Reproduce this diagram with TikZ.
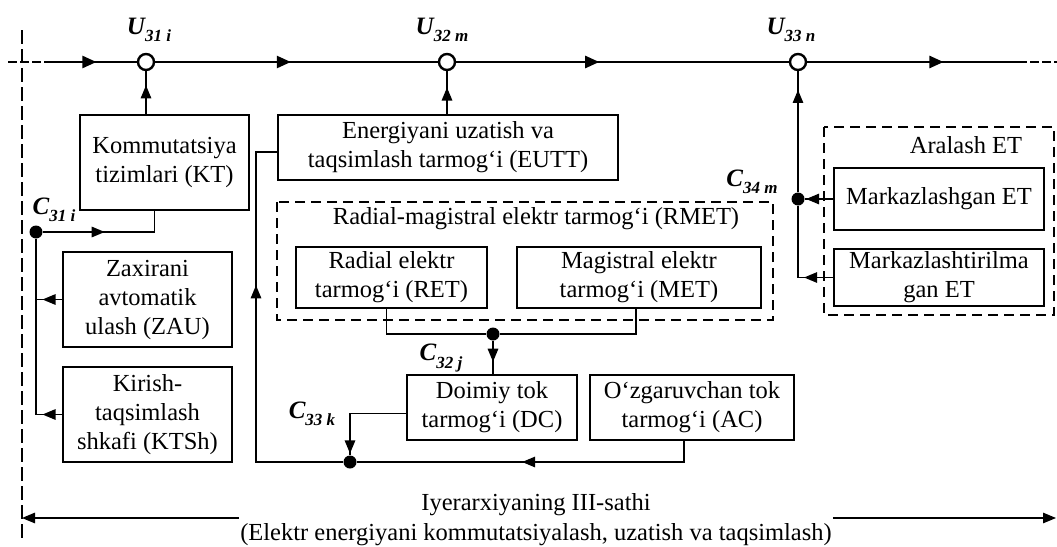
\documentclass[tikz,border=0pt]{standalone}
\usepackage{fontspec}
\setmainfont{Liberation Serif}
\usetikzlibrary{arrows.meta,decorations.markings}
\tikzset{
  box/.style={draw, line width=1.8pt, inner sep=2pt, align=center, font=\fontsize{24.5}{29}\selectfont},
  dbox/.style={draw, dash pattern=on 10pt off 6pt, line width=1.3pt},
  conn/.style={line width=1.3pt},
  mainln/.style={line width=2.4pt},
  arrat/.style={postaction={decorate},decoration={markings,mark=at position #1 with {\arrow{>}}}},
  bigarrat/.style={postaction={decorate},decoration={markings,mark=at position #1 with {\arrow{Triangle[length=14pt,width=12pt]}}}},
  junc/.style={circle, fill, inner sep=0pt, minimum size=13pt},
  busn/.style={circle, draw, fill=white, line width=2.4pt, inner sep=0pt, minimum size=16pt},
  lab/.style={inner sep=0pt, font=\fontsize{25}{25}\selectfont\bfseries\itshape},
  ttl/.style={inner sep=0pt, font=\fontsize{24.5}{29}\selectfont},
}
\newcommand{\labtxt}[2]{#1\raisebox{-0.3em}{\fontsize{17}{17}\selectfont #2}}
\begin{document}
\begin{tikzpicture}[x=1pt,y=-1pt,>={Triangle[length=13pt,width=10.5pt]}]
\useasboundingbox (0,0) rectangle (1057,546);
% left dashed boundary
\coordinate (vt) at (22,30);
\coordinate (vb) at (22,540);
\draw[line width=1.8pt, dash pattern=on 14pt off 5pt] (vt) -- (vb);
% main line
\node[busn] (u31) at (146,62) {};
\node[busn] (u32) at (447,62) {};
\node[busn] (u33) at (798,62) {};
\coordinate (ls) at (45,62);
\coordinate (le) at (8,62);
\coordinate (re) at (1027,62);
\coordinate (rr) at (1057,62);
\draw[mainln, dash pattern=on 9pt off 3pt] (le) -- (ls);
\draw[mainln, dash pattern=on 9pt off 3pt] ([xshift=3pt]re) -- (rr);
\draw[mainln, bigarrat=0.56] (ls) -- (u31);
\draw[mainln, bigarrat=0.48] (u31) -- (u32);
\draw[mainln, bigarrat=0.43] (u32) -- (u33);
\draw[mainln, bigarrat=0.62] (u33) -- (re);
\node[lab] (lu31) at (149,30) {\labtxt{U}{31 i}};
\node[lab] (lu32) at (442,30) {\labtxt{U}{32 m}};
\node[lab] (lu33) at (791,30) {\labtxt{U}{33 n}};
% boxes
\node[box, minimum width=169pt, minimum height=95pt] (kt) at (164.5,162.5) {Kommutatsiya\\tizimlari (KT)};
\node[box, minimum width=340pt, minimum height=65pt] (eutt) at (448,147.5) {Energiyani uzatish va\\taqsimlash tarmog‘i (EUTT)};
\node[box, minimum width=169pt, minimum height=95pt] (zau) at (147.5,299.5) {Zaxirani\\avtomatik\\ulash (ZAU)};
\node[box, minimum width=169pt, minimum height=95pt] (ktsh) at (147.5,414.5) {Kirish-\\taqsimlash\\shkafi (KTSh)};
\draw[dbox] (277,202) rectangle (773,320);
\node[ttl] (rmet) at (536,219) {Radial-magistral elektr tarmog‘i (RMET)};
\node[box, minimum width=191pt, minimum height=61pt] (ret) at (391.5,277.5) {Radial elektr\\tarmog‘i (RET)};
\node[box, minimum width=244pt, minimum height=61pt] (met) at (639,277.5) {Magistral elektr\\tarmog‘i (MET)};
\node[box, minimum width=170pt, minimum height=65pt] (dc) at (492,407.5) {Doimiy tok\\tarmog‘i (DC)};
\node[box, minimum width=204pt, minimum height=65pt] (ac) at (692,407.5) {O‘zgaruvchan tok\\tarmog‘i (AC)};
\draw[dbox] (824,127) rectangle (1054,315);
\node[ttl] (aral) at (966,145) {Aralash ET};
\node[box, minimum width=210pt, minimum height=62pt] (mk1) at (939,199) {Markazlashgan ET};
\node[box, minimum width=210pt, minimum height=57pt] (mk2) at (939,277.5) {Markazlashtirilma\\gan ET};
% junctions
\node[junc] (c31) at (36,232) {};
\node[junc] (c32) at (493,334) {};
\node[junc] (c33) at (350,462) {};
\node[junc] (c34) at (798,199) {};
\node[lab] (lc31) at (54,210) {\labtxt{C}{31 i}};
\node[lab] (lc32) at (441,358) {\labtxt{C}{32 j}};
\node[lab] (lc33) at (312,414) {\labtxt{C}{33 k}};
\node[lab] (lc34) at (752,182) {\labtxt{C}{34 m}};
% connectors
\draw[conn, arrat=0.67] (kt.north -| u31) -- (u31);
\draw[conn, arrat=0.62] (eutt.north -| u32) -- (u32);
\draw[conn, arrat=62pt] (c31) -| ([xshift=-10pt]kt.south);
\draw[conn] (c31) -- (ktsh.west -| c31);
\draw[conn, arrat=0.75] (zau.west) -- (zau.west -| c31);
\draw[conn, arrat=0.75] (ktsh.west) -- (ktsh.west -| c31);
\draw[conn] ([xshift=-5pt]ret.south) |- (c32);
\draw[conn] ([xshift=-3pt]met.south) |- (c32);
\draw[conn, arrat=0.63] (c32) -- (dc.north -| c32);
\draw[conn, arrat=96pt] ([yshift=-6pt]dc.west) -| (c33);
\draw[conn, arrat=183pt] ([xshift=-8pt]ac.south) |- (c33);
\coordinate (ev) at (256,152);
\draw[conn, arrat=264pt] (c33) -- (c33 -| ev) -- (ev) -- (eutt.west |- ev);
\draw[conn, arrat=27pt] (mk1.west) -- (c34);
\draw[conn, arrat=29pt] (mk2.west) -| (c34);
\draw[conn, arrat=0.845] (c34) -- (u33);
% bottom level
\node[inner sep=1pt, align=center, font=\fontsize{24.5}{30}\selectfont] (lvl) at (536,520) {Iyerarxiyaning III-sathi\\(Elektr energiyani kommutatsiyalash, uzatish va taqsimlash)};
\coordinate (hl) at (22,518);
\coordinate (hr) at (1056,518);
\draw[conn, ->] (lvl.west |- hl) -- (hl);
\draw[conn, ->] (lvl.east |- hr) -- (hr);
\end{tikzpicture}
\end{document}
